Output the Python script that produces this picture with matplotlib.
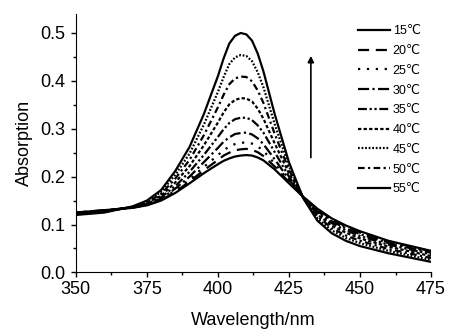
import numpy as np
import matplotlib
matplotlib.use('Agg')
from matplotlib import pyplot as plt

plt.rcParams['font.family'] = ['Liberation Sans', 'DejaVu Sans']

wl = [350, 360, 370, 375, 380, 385, 390, 395, 400, 402, 404, 406, 408, 410, 412,
      414, 416, 420, 425, 430, 435, 440, 445, 450, 460, 475]

a15 = [0.125, 0.130, 0.135, 0.140, 0.150, 0.166, 0.186, 0.207, 0.226, 0.233, 0.238,
       0.242, 0.244, 0.245, 0.244, 0.240, 0.234, 0.215, 0.186, 0.158, 0.133, 0.113,
       0.098, 0.086, 0.066, 0.045]
a20 = [0.125, 0.130, 0.135, 0.141, 0.151, 0.168, 0.190, 0.213, 0.235, 0.244, 0.250,
       0.255, 0.257, 0.258, 0.256, 0.251, 0.243, 0.221, 0.188, 0.158, 0.132, 0.111,
       0.096, 0.084, 0.065, 0.044]
a25 = [0.124, 0.129, 0.135, 0.141, 0.152, 0.171, 0.194, 0.220, 0.245, 0.255, 0.263,
       0.268, 0.271, 0.271, 0.269, 0.263, 0.254, 0.227, 0.191, 0.158, 0.130, 0.110,
       0.095, 0.083, 0.063, 0.043]
a30 = [0.124, 0.129, 0.136, 0.142, 0.154, 0.175, 0.200, 0.230, 0.260, 0.273, 0.282,
       0.289, 0.291, 0.292, 0.288, 0.280, 0.268, 0.236, 0.194, 0.157, 0.128, 0.107,
       0.092, 0.080, 0.061, 0.041]
a35 = [0.123, 0.128, 0.136, 0.143, 0.157, 0.180, 0.210, 0.245, 0.283, 0.299, 0.312,
       0.320, 0.323, 0.323, 0.318, 0.307, 0.292, 0.251, 0.200, 0.157, 0.125, 0.103,
       0.088, 0.076, 0.058, 0.038]
a40 = [0.123, 0.128, 0.136, 0.145, 0.160, 0.188, 0.222, 0.265, 0.313, 0.334, 0.351,
       0.360, 0.364, 0.363, 0.357, 0.342, 0.321, 0.269, 0.207, 0.157, 0.121, 0.098,
       0.083, 0.071, 0.054, 0.034]
a45 = [0.121, 0.126, 0.137, 0.148, 0.168, 0.204, 0.248, 0.308, 0.377, 0.408, 0.435,
       0.449, 0.454, 0.452, 0.441, 0.418, 0.387, 0.309, 0.222, 0.156, 0.113, 0.088,
       0.072, 0.061, 0.045, 0.026]
a50 = [0.122, 0.127, 0.137, 0.146, 0.164, 0.196, 0.235, 0.286, 0.345, 0.371, 0.393,
       0.405, 0.409, 0.408, 0.399, 0.380, 0.354, 0.289, 0.214, 0.156, 0.117, 0.093,
       0.077, 0.066, 0.049, 0.030]
a55 = [0.120, 0.125, 0.138, 0.150, 0.172, 0.212, 0.262, 0.330, 0.410, 0.447, 0.478,
       0.494, 0.500, 0.497, 0.484, 0.457, 0.420, 0.330, 0.230, 0.155, 0.108, 0.082,
       0.066, 0.055, 0.040, 0.022]

labels = ['15\u2103', '20\u2103', '25\u2103', '30\u2103', '35\u2103',
          '40\u2103', '45\u2103', '50\u2103', '55\u2103']
series = [a15, a20, a25, a30, a35, a40, a45, a50, a55]
styles = ['-', (0, (5, 3)), (0, (1, 3)), (0, (5, 1.5, 1, 1.5)),
          (0, (4, 1.2, 1, 1.2, 1, 1.2)), (0, (1.5, 1)), (0, (0.8, 0.8)),
          (0, (3, 1.5, 1, 1.5)), '-']

fig = plt.figure(figsize=(4.49, 3.29), dpi=100)
ax = fig.add_axes([0.169, 0.172, 0.791, 0.786])

for y, lab, ls in zip(series, labels, styles):
    ax.plot(wl, y, color='k', linestyle=ls, linewidth=1.6, label=lab,
            solid_joinstyle='round')

ax.annotate('', xy=(432.7, 0.458), xytext=(432.7, 0.234),
            arrowprops=dict(arrowstyle='-|>', color='k', lw=1.2,
                            mutation_scale=9))

ax.set_xlim(350, 475)
ax.set_ylim(0, 0.54)
ax.set_xticks([350, 375, 400, 425, 450, 475])
ax.set_xticks(np.arange(362.5, 475, 25), minor=True)
ax.set_yticks([0.0, 0.1, 0.2, 0.3, 0.4, 0.5])
ax.set_yticks(np.arange(0.05, 0.54, 0.1), minor=True)
ax.set_yticklabels(['0.0', '0.1', '0.2', '0.3', '0.4', '0.5'])
ax.tick_params(which='major', direction='out', length=3.5, width=1,
               labelsize=13)
ax.tick_params(axis='x', which='major', pad=2.5)
ax.tick_params(axis='y', which='major', pad=4)
ax.tick_params(which='minor', direction='out', length=2, width=1)
ax.spines['top'].set_visible(False)
ax.spines['right'].set_visible(False)
ax.set_xlabel('Wavelength/nm', fontsize=13, labelpad=10)
ax.set_ylabel('Absorption', fontsize=13, labelpad=5)

ax.legend(loc='upper right', frameon=False, fontsize=9, handlelength=2.6,
          handletextpad=0.2, labelspacing=0.62, borderaxespad=0,
          bbox_to_anchor=(0.985, 0.975))

fig.savefig('out.png', dpi=100)
